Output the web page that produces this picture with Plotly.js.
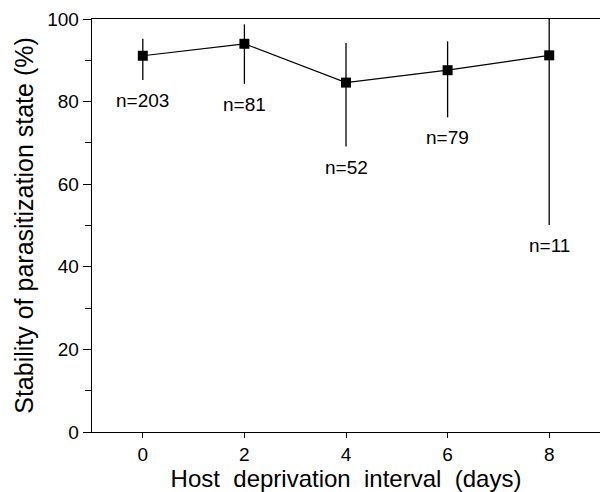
<!DOCTYPE html>
<html>
<head>
<meta charset="utf-8">
<script src="https://cdn.plot.ly/plotly-3.0.1.min.js"></script>
<style>html,body{margin:0;padding:0;background:#fff;}#chart{width:600px;height:492px;}</style>
</head>
<body>
<div id="chart"></div>
<script>
const days = [0, 2, 4, 6, 8];
const stability = [91.1, 94.0, 84.6, 87.6, 91.2];
const upperBound = [95.2, 98.7, 94.2, 94.6, 100];
const lowerBound = [85.2, 84.3, 69.1, 76.2, 50.1];
const nLabels = ['n=203', 'n=81', 'n=52', 'n=79', 'n=11'];

const FONT = 'Liberation Sans, Arial, Helvetica, sans-serif';

const trace = {
  x: days,
  y: stability,
  type: 'scatter',
  mode: 'lines+markers',
  line: {color: '#000', width: 1.2},
  marker: {symbol: 'square', size: 10, color: '#000'},
  error_y: {
    type: 'data',
    symmetric: false,
    array: upperBound.map((u, i) => u - stability[i]),
    arrayminus: stability.map((s, i) => s - lowerBound[i]),
    color: '#000',
    thickness: 1.3,
    width: 0
  },
  showlegend: false,
  hoverinfo: 'skip'
};

const annotations = days.map((d, i) => ({
  x: d, y: lowerBound[i], xref: 'x', yref: 'y',
  text: nLabels[i], showarrow: false,
  xanchor: 'center', yanchor: 'top', yshift: -8,
  font: {family: FONT, size: 19, color: '#000'}
}));

const layout = {
  width: 600, height: 492,
  margin: {l: 92, r: 0, t: 19, b: 60, pad: 0},
  paper_bgcolor: '#fff', plot_bgcolor: '#fff',
  font: {family: FONT, color: '#000'},
  xaxis: {
    range: [-1, 9],
    tickvals: days,
    ticktext: days.map(String),
    showgrid: false, zeroline: false,
    showline: true, linecolor: '#000', linewidth: 1.3, mirror: true,
    ticks: 'outside', ticklen: 5, tickwidth: 1, tickcolor: '#000',
    tickfont: {family: FONT, size: 19, color: '#000'},
    title: {text: 'Host&nbsp; deprivation&nbsp; interval&nbsp; (days)', font: {family: FONT, size: 24, color: '#000'}, standoff: 7}
  },
  yaxis: {
    range: [0, 100],
    tickvals: [0, 20, 40, 60, 80, 100],
    showgrid: false, zeroline: false,
    showline: true, linecolor: '#000', linewidth: 1.3, mirror: false,
    ticks: 'outside', ticklen: 8, tickwidth: 1, tickcolor: '#000',
    tickfont: {family: FONT, size: 19, color: '#000'},
    minor: {tickvals: [10, 30, 50, 70, 90], ticks: 'outside', ticklen: 6, tickwidth: 1, tickcolor: '#000', showgrid: false},
    title: {text: 'Stability of parasitization state (%)', font: {family: FONT, size: 25, color: '#000'}, standoff: 6}
  },
  annotations: annotations
};

Plotly.newPlot('chart', [trace], layout, {displayModeBar: false, staticPlot: true});
</script>
</body>
</html>
